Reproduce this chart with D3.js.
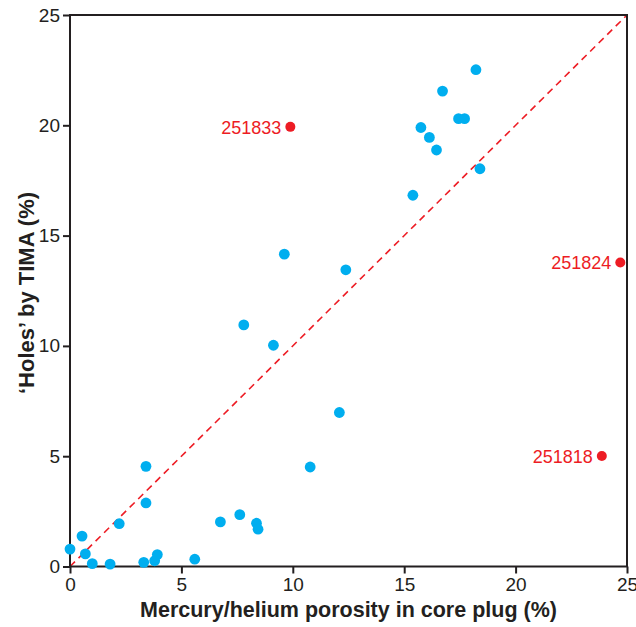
<!DOCTYPE html>
<html>
<head>
<meta charset="utf-8">
<script src="https://cdn.jsdelivr.net/npm/d3@7"></script>
<style>
  html, body { margin: 0; padding: 0; background: #fff; }
  svg text { font-family: "Liberation Sans", Arial, Helvetica, sans-serif; }
</style>
</head>
<body>
<svg id="chart" width="636" height="627"></svg>
<script>
// Porosity measured on core plugs vs. 'holes' fraction from TIMA
const porosity = [0.0, 0.54, 0.69, 1.0, 1.8, 2.21, 3.41, 3.41, 3.31, 3.80, 3.92, 5.6,
  6.75, 7.62, 8.37, 8.44, 7.80, 9.13, 9.62, 10.78, 12.09, 12.38, 15.39, 15.75,
  16.13, 16.45, 16.72, 17.44, 17.71, 18.22, 18.4];
const holes = [0.79, 1.38, 0.57, 0.13, 0.11, 1.94, 4.54, 2.88, 0.19, 0.26, 0.54, 0.33,
  2.02, 2.35, 1.96, 1.69, 10.95, 10.03, 14.16, 4.51, 6.98, 13.45, 16.83, 19.9,
  19.45, 18.88, 21.55, 20.3, 20.3, 22.52, 18.03];

// Outlier samples, labelled by sample number
const outlierIds = ["251833", "251824", "251818"];
const outlierPorosity = [9.89, 24.7, 23.87];
const outlierHoles = [19.93, 13.78, 5.01];

const xTicks = [0, 5, 10, 15, 20, 25];
const yTicks = [0, 5, 10, 15, 20, 25];

const svg = d3.select("#chart");
const plotLeft = 70, plotRight = 627, plotTop = 15, plotBottom = 566.5;
const axisColor = "#231f20";
const blue = "#00aeef", red = "#ed1c24";

const x = d3.scaleLinear().domain([0, 25]).range([plotLeft, plotRight]);
const y = d3.scaleLinear().domain([0, 25]).range([plotBottom, plotTop]);

// 1:1 reference line
svg.append("line")
  .attr("x1", x(0)).attr("y1", y(0))
  .attr("x2", x(25)).attr("y2", y(25))
  .attr("stroke", red).attr("stroke-width", 1.6)
  .attr("stroke-dasharray", "7,5");

// Frame
svg.append("rect")
  .attr("x", plotLeft).attr("y", plotTop)
  .attr("width", plotRight - plotLeft).attr("height", plotBottom - plotTop)
  .attr("fill", "none").attr("stroke", axisColor).attr("stroke-width", 2);

// Axes
const xAxis = svg.append("g")
  .attr("transform", `translate(0,${plotBottom})`)
  .call(d3.axisBottom(x).tickValues(xTicks).tickSize(7).tickPadding(4).tickFormat(d3.format("d")));
const yAxis = svg.append("g")
  .attr("transform", `translate(${plotLeft},0)`)
  .call(d3.axisLeft(y).tickValues(yTicks).tickSize(7).tickPadding(3).tickFormat(d3.format("d")));

[xAxis, yAxis].forEach(g => {
  g.select(".domain").remove();
  g.selectAll(".tick line").attr("stroke", axisColor).attr("stroke-width", 2);
  g.selectAll(".tick text")
    .attr("fill", axisColor)
    .style("font-size", "19px")
    .style("font-family", '"Liberation Sans", Arial, sans-serif');
});

// Points
const pts = porosity.map((p, i) => ({ p, h: holes[i] }));
svg.append("g").selectAll("circle")
  .data(pts).join("circle")
  .attr("cx", d => x(d.p)).attr("cy", d => y(d.h))
  .attr("r", 5.4).attr("fill", blue);

const outliers = outlierIds.map((id, i) => ({ id, p: outlierPorosity[i], h: outlierHoles[i] }));
const og = svg.append("g");
og.selectAll("circle")
  .data(outliers).join("circle")
  .attr("cx", d => x(d.p)).attr("cy", d => y(d.h))
  .attr("r", 5).attr("fill", red);
og.selectAll("text")
  .data(outliers).join("text")
  .attr("x", d => x(d.p) - 9).attr("y", d => y(d.h))
  .attr("dy", "0.37em")
  .attr("text-anchor", "end")
  .attr("fill", red)
  .style("font-size", "18px")
  .text(d => d.id);

// Axis titles
svg.append("text")
  .attr("x", 348.5).attr("y", 617)
  .attr("text-anchor", "middle")
  .attr("fill", axisColor)
  .style("font-size", "21.5px").style("font-weight", "bold")
  .text("Mercury/helium porosity in core plug (%)");

svg.append("text")
  .attr("transform", "translate(34,293) rotate(-90)")
  .attr("text-anchor", "middle")
  .attr("fill", axisColor)
  .style("font-size", "22px").style("font-weight", "bold")
  .text("\u2018Holes\u2019 by TIMA (%)");
</script>
</body>
</html>
